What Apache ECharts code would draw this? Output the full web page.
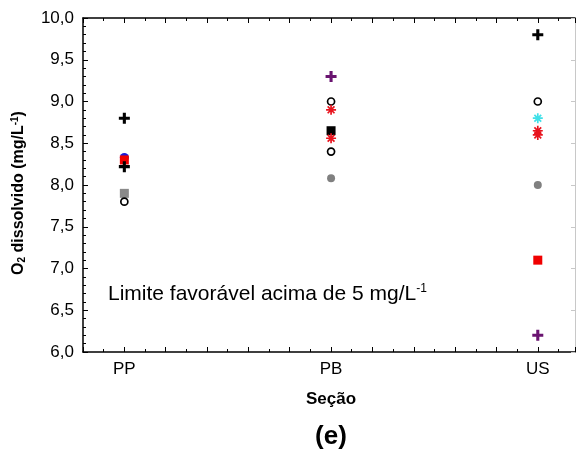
<!DOCTYPE html>
<html>
<head>
<meta charset="utf-8">
<script src="https://cdn.jsdelivr.net/npm/echarts@6/dist/echarts.min.js"></script>
<style>html,body{margin:0;padding:0;background:#fff}#c{width:576px;height:452px}</style>
</head>
<body>
<div id="c"></div>
<script>
const categories = ['PP', 'PB', 'US'];
const blackPlus = [['PP', 8.80], ['PP', 8.22], ['US', 9.80]];
const purplePlus = [['PB', 9.30], ['US', 6.20]];
const openCircle = [['PP', 7.80], ['PB', 9.00], ['PB', 8.40], ['US', 9.00]];
const redAsterisk = [['PB', 8.90], ['PB', 8.56], ['US', 8.65], ['US', 8.60]];
const cyanAsterisk = [['US', 8.80]];
const blackSquare = [['PB', 8.65]];
const blueCircle = [['PP', 8.33]];
const redSquare = [['PP', 8.30], ['US', 7.10]];
const graySquare = [['PP', 7.90]];
const grayCircle = [['PB', 8.08], ['US', 8.00]];

const toXY = arr => arr.map(d => [categories.indexOf(d[0]) + 1, d[1]]);
const PLUS = 'path://M3.6,0h2.8v3.6h3.6v2.8h-3.6v3.6h-2.8v-3.6h-3.6v-2.8h3.6z';
const AST = 'path://M5,0L5,10M0,5L10,5M1.6,1.6L8.4,8.4M8.4,1.6L1.6,8.4';

const font = 'Arial, "Liberation Sans", sans-serif';
const chart = echarts.init(document.getElementById('c'), null, {renderer: 'canvas'});

function s(name, data, symbol, size, style) {
  return {name, type: 'scatter', data: toXY(data), symbol, symbolSize: size,
    itemStyle: Object.assign({opacity: 1}, style), emphasis: {disabled: true}, xAxisIndex: 0, yAxisIndex: 0, z: 3};
}

const xBase = {
  type: 'value', min: 0.8, max: 3.18, interval: 0.2,
  splitLine: {show: false},
  axisLine: {show: true, onZero: false, lineStyle: {color: '#000', width: 1.5}},
  axisTick: {show: true, inside: true, length: 5, lineStyle: {color: '#000', width: 1}},
  minorTick: {show: true, splitNumber: 2, length: 3, lineStyle: {color: '#000', width: 1}},
  minorSplitLine: {show: false}
};

chart.setOption({
  animation: false,
  backgroundColor: '#fff',
  grid: {left: 83, right: 1, top: 18, bottom: 100, containLabel: false},
  xAxis: [
    Object.assign({}, xBase, {position: 'bottom',
      axisLabel: {show: true, margin: 9, color: '#000', fontSize: 17, fontFamily: font,
        showMinLabel: true, showMaxLabel: false,
        formatter: v => { for (let i = 0; i < categories.length; i++) { if (Math.abs(v - (i + 1)) < 1e-6) return categories[i]; } return ''; }}}),
    Object.assign({}, xBase, {position: 'top', axisLabel: {show: false}})
  ],
  yAxis: [
    {type: 'value', min: 6, max: 10, interval: 0.5, position: 'left',
      splitLine: {show: false},
      axisLine: {show: true, onZero: false, lineStyle: {color: '#000', width: 1.5}},
      axisTick: {show: true, inside: true, length: 5, lineStyle: {color: '#000'}},
      minorTick: {show: true, splitNumber: 5, length: 3, lineStyle: {color: '#000'}},
      axisLabel: {color: '#000', fontSize: 17, fontFamily: font, margin: 9,
        formatter: v => v.toFixed(1).replace('.', ',')}},
    {type: 'value', min: 6, max: 10, interval: 0.5, position: 'right',
      splitLine: {show: false},
      axisLine: {show: true, onZero: false, lineStyle: {color: '#c8c8c8', width: 1}},
      axisTick: {show: true, inside: true, length: 4, lineStyle: {color: '#c8c8c8'}},
      axisLabel: {show: false}}
  ],
  series: [
    s('gray circle', grayCircle, 'circle', 8, {color: '#808080'}),
    s('gray square', graySquare, 'rect', 9, {color: '#8a8a8a'}),
    s('open circle', openCircle, 'circle', 7, {color: '#fff', borderColor: '#000', borderWidth: 1.7}),
    s('blue circle', blueCircle, 'circle', 9, {color: '#1a1ad8'}),
    s('red square', redSquare, 'rect', 9, {color: '#f00000'}),
    s('black square', blackSquare, 'rect', 9, {color: '#000'}),
    s('red asterisk', redAsterisk, AST, 10, {color: 'rgba(0,0,0,0)', borderColor: '#e8141e', borderWidth: 1.7}),
    s('cyan asterisk', cyanAsterisk, AST, 10, {color: 'rgba(0,0,0,0)', borderColor: '#3fe0e8', borderWidth: 1.7}),
    s('purple plus', purplePlus, PLUS, 11, {color: '#6a1470'}),
    s('black plus', blackPlus, PLUS, 11, {color: '#000'})
  ],
  graphic: [
    {type: 'text', x: 19, y: 193, rotation: Math.PI / 2,
      style: {text: '{b|O}{sub|2}{b| dissolvido (mg/L}{sup|-1}{b|)}', align: 'center', verticalAlign: 'middle',
        rich: {
          b: {fontSize: 16, fontWeight: 'bold', fontFamily: font, fill: '#000'},
          sub: {fontSize: 10, fontWeight: 'bold', fontFamily: font, fill: '#000', verticalAlign: 'bottom', padding: [7, 0, 0, 0]},
          sup: {fontSize: 10, fontWeight: 'bold', fontFamily: font, fill: '#000', verticalAlign: 'top', padding: [0, 0, 7, 0]}
        }}},
    {type: 'text', x: 108, y: 294,
      style: {text: '{a|Limite favorável acima de 5 mg/L}{s|-1}', align: 'left', verticalAlign: 'middle',
        rich: {
          a: {fontSize: 21, fontFamily: font, fill: '#000'},
          s: {fontSize: 12, fontFamily: font, fill: '#000', verticalAlign: 'top', padding: [0, 0, 10, 0]}
        }}},
    {type: 'text', x: 331, y: 399,
      style: {text: 'Seção', align: 'center', verticalAlign: 'middle', fontSize: 17, fontWeight: 'bold', fontFamily: font, fill: '#000'}},
    {type: 'text', x: 331, y: 437,
      style: {text: '(e)', align: 'center', verticalAlign: 'middle', fontSize: 26, fontWeight: 'bold', fontFamily: font, fill: '#000'}}
  ]
});
</script>
</body>
</html>
